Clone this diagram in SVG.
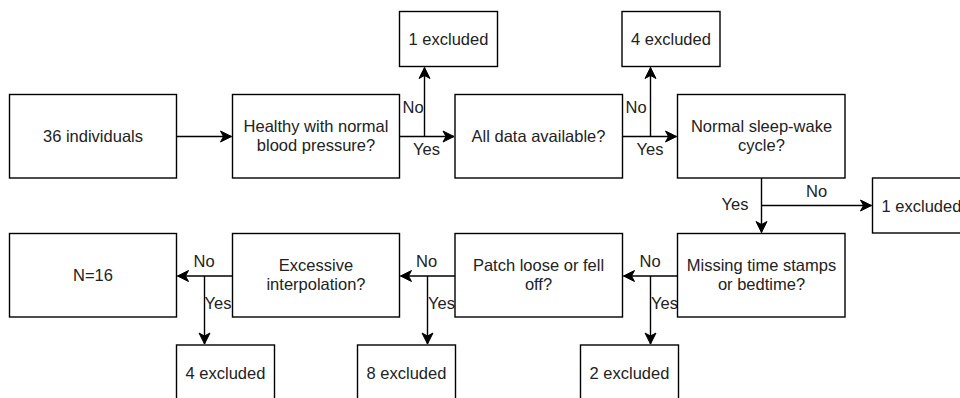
<svg xmlns="http://www.w3.org/2000/svg" width="960" height="398" viewBox="0 0 960 398">
<defs>
<style>
.box{fill:#fff;stroke:#000;stroke-width:1.4}
.t{font-family:"Liberation Sans",Helvetica,Arial,sans-serif;font-size:16.5px;fill:#222;text-anchor:middle}
.l{font-family:"Liberation Sans",Helvetica,Arial,sans-serif;font-size:16.5px;fill:#222;text-anchor:start}
.c{fill:none;stroke:#000;stroke-width:1.4}
.a{marker-end:url(#arr)}
</style>
<marker id="arr" markerUnits="userSpaceOnUse" markerWidth="14" markerHeight="14" viewBox="-12 -7 14 14" refX="0" refY="0" orient="auto">
<path d="M0,0 L-11,-5.5 L-8,0 L-11,5.5 Z" fill="#000" stroke="#000" stroke-width="1"/>
</marker>
</defs>
<rect width="960" height="398" fill="#fff"/>

<g id="connectors">
<path class="c a" d="M176.5,136.5 H231.5"/>
<path class="c a" d="M399.5,136.5 H454"/>
<path class="c a" d="M424.5,136.5 V67.5"/>
<path class="c a" d="M622.5,136.5 H676.5"/>
<path class="c a" d="M650.5,136.5 V67.5"/>
<path class="c a" d="M761.5,178 V232.5"/>
<path class="c a" d="M761.5,205.5 H871.5"/>
<path class="c a" d="M677.5,276 H623.5"/>
<path class="c a" d="M650.5,276 V344"/>
<path class="c a" d="M455,276 H400.5"/>
<path class="c a" d="M427.5,276 V344"/>
<path class="c a" d="M232.5,276 H177.5"/>
<path class="c a" d="M204.5,276 V344"/>
<text class="l" x="402.5" y="113">No</text>
<text class="l" x="413" y="155">Yes</text>
<text class="l" x="625.5" y="113">No</text>
<text class="l" x="636.5" y="155">Yes</text>
<text class="l" x="721.5" y="210">Yes</text>
<text class="l" x="806" y="197">No</text>
<text class="l" x="639.5" y="267">No</text>
<text class="l" x="651" y="308.5">Yes</text>
<text class="l" x="416" y="267">No</text>
<text class="l" x="428" y="308.5">Yes</text>
<text class="l" x="193.5" y="267">No</text>
<text class="l" x="204.5" y="308.5">Yes</text>
</g>

<g id="n-start">
<rect class="box" x="9.5" y="94.5" width="167" height="83.5"/>
<text class="t" x="93" y="142">36 individuals</text>
</g>
<g id="n-healthy">
<rect class="box" x="232.5" y="94.5" width="167" height="83.5"/>
<text class="t" x="316" y="132">Healthy with normal</text>
<text class="t" x="316" y="151">blood pressure?</text>
</g>
<g id="n-data">
<rect class="box" x="455" y="94.5" width="167.5" height="83.5"/>
<text class="t" x="538.5" y="142">All data available?</text>
</g>
<g id="n-sleep">
<rect class="box" x="677.5" y="94.5" width="167.5" height="83.5"/>
<text class="t" x="761.5" y="132">Normal sleep-wake</text>
<text class="t" x="761.5" y="151">cycle?</text>
</g>
<g id="ex-1">
<rect class="box" x="399.5" y="11.5" width="98" height="55"/>
<text class="t" x="448.5" y="45">1 excluded</text>
</g>
<g id="ex-4a">
<rect class="box" x="622" y="11.5" width="98" height="55"/>
<text class="t" x="671" y="45">4 excluded</text>
</g>
<g id="ex-1b">
<rect class="box" x="872.5" y="178" width="98" height="55"/>
<text class="t" x="921.5" y="211.5">1 excluded</text>
</g>
<g id="n-missing">
<rect class="box" x="677.5" y="233.5" width="167.5" height="83.5"/>
<text class="t" x="761.5" y="271">Missing time stamps</text>
<text class="t" x="761.5" y="290">or bedtime?</text>
</g>
<g id="n-patch">
<rect class="box" x="455" y="233.5" width="167.5" height="83.5"/>
<text class="t" x="538.5" y="271">Patch loose or fell</text>
<text class="t" x="538.5" y="290">off?</text>
</g>
<g id="n-interp">
<rect class="box" x="232.5" y="233.5" width="167" height="83.5"/>
<text class="t" x="316" y="271">Excessive</text>
<text class="t" x="316" y="290">interpolation?</text>
</g>
<g id="n-final">
<rect class="box" x="9.5" y="233.5" width="167" height="83.5"/>
<text class="t" x="93" y="281">N=16</text>
</g>
<g id="ex-4b">
<rect class="box" x="176.5" y="345" width="98" height="55"/>
<text class="t" x="225.5" y="378.5">4 excluded</text>
</g>
<g id="ex-8">
<rect class="box" x="357.5" y="345" width="98" height="55"/>
<text class="t" x="406.5" y="378.5">8 excluded</text>
</g>
<g id="ex-2">
<rect class="box" x="580.5" y="345" width="98" height="55"/>
<text class="t" x="629.5" y="378.5">2 excluded</text>
</g>
</svg>
